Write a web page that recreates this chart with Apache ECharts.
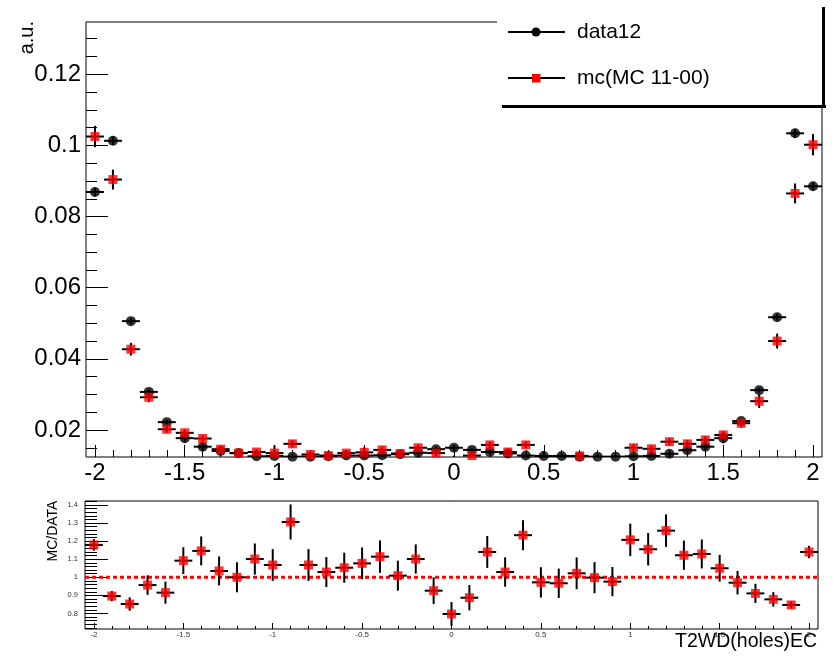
<!DOCTYPE html>
<html>
<head>
<meta charset="utf-8">
<script src="https://cdn.jsdelivr.net/npm/echarts@6/dist/echarts.min.js"></script>
<style>
  html, body { margin: 0; padding: 0; background: #fff; }
  #chart { width: 834px; height: 656px; }
</style>
</head>
<body>
<div id="chart"></div>
<script>
// Bin centres of T2WD(holes)EC, bin width 0.1
const binCenters = [-2.0, -1.9, -1.8, -1.7, -1.6, -1.5, -1.4, -1.3, -1.2, -1.1, -1.0,
  -0.9, -0.8, -0.7, -0.6, -0.5, -0.4, -0.3, -0.2, -0.1, 0.0, 0.1, 0.2, 0.3, 0.4, 0.5,
  0.6, 0.7, 0.8, 0.9, 1.0, 1.1, 1.2, 1.3, 1.4, 1.5, 1.6, 1.7, 1.8, 1.9, 2.0];
const binHalfWidth = 0.05;

// data12 (normalised)
const data12 = [0.0869, 0.1013, 0.0506, 0.0307, 0.0222, 0.0177, 0.0153, 0.0141, 0.0135, 0.0126, 0.0127,
  0.0125, 0.0125, 0.0126, 0.0128, 0.0128, 0.0129, 0.0132, 0.0136, 0.0146, 0.0150, 0.0144, 0.0138, 0.0134, 0.0128, 0.0127,
  0.0127, 0.0125, 0.0125, 0.0125, 0.0126, 0.0127, 0.0133, 0.0143, 0.0153, 0.0177, 0.0225, 0.0312, 0.0517, 0.1034, 0.0885];
const data12Err = [0.0012, 0.0012, 0.0009, 0.0007, 0.0006, 0.0012, 0.0010, 0.0006, 0.0005, 0.0005, 0.0005,
  0.0006, 0.0005, 0.0005, 0.0005, 0.0006, 0.0005, 0.0005, 0.0006, 0.0006, 0.0007, 0.0006, 0.0006, 0.0005, 0.0005, 0.0014,
  0.0005, 0.0005, 0.0005, 0.0005, 0.0005, 0.0005, 0.0005, 0.0008, 0.0009, 0.0014, 0.0006, 0.0007, 0.0009, 0.0012, 0.0012];

// mc(MC 11-00) (normalised)
const mc = [0.1025, 0.0904, 0.0427, 0.0292, 0.0202, 0.0192, 0.0176, 0.0146, 0.0135, 0.0138, 0.0135,
  0.0161, 0.0131, 0.0128, 0.0135, 0.0137, 0.0144, 0.0134, 0.0150, 0.0135, 0.0120, 0.0128, 0.0158, 0.0138, 0.0158, 0.0123,
  0.0123, 0.0127, 0.0123, 0.0122, 0.0150, 0.0147, 0.0167, 0.0161, 0.0172, 0.0186, 0.0219, 0.0281, 0.0450, 0.0865, 0.1002];
const mcErr = [0.0030, 0.0028, 0.0018, 0.0014, 0.0010, 0.0009, 0.0009, 0.0008, 0.0008, 0.0008, 0.0022,
  0.0010, 0.0008, 0.0008, 0.0008, 0.0014, 0.0009, 0.0008, 0.0009, 0.0008, 0.0008, 0.0008, 0.0009, 0.0008, 0.0009, 0.0008,
  0.0008, 0.0008, 0.0008, 0.0008, 0.0009, 0.0009, 0.0010, 0.0010, 0.0010, 0.0011, 0.0012, 0.0019, 0.0021, 0.0028, 0.0030];

// MC/DATA ratio
const ratio = [1.179, 0.896, 0.852, 0.957, 0.915, 1.092, 1.146, 1.035, 1.000, 1.101, 1.068,
  1.306, 1.068, 1.029, 1.053, 1.077, 1.114, 1.009, 1.101, 0.926, 0.797, 0.887, 1.140, 1.029, 1.233, 0.972,
  0.967, 1.022, 0.998, 0.976, 1.207, 1.155, 1.258, 1.122, 1.129, 1.050, 0.970, 0.911, 0.878, 0.847, 1.140];
const ratioErr = [0.032, 0.028, 0.037, 0.054, 0.061, 0.074, 0.080, 0.080, 0.083, 0.086, 0.088,
  0.097, 0.088, 0.083, 0.083, 0.088, 0.090, 0.083, 0.081, 0.074, 0.066, 0.070, 0.088, 0.081, 0.083, 0.084,
  0.081, 0.088, 0.086, 0.081, 0.090, 0.090, 0.090, 0.081, 0.080, 0.074, 0.065, 0.053, 0.040, 0.020, 0.034];

// Axis ticks
const xMajorTicks = [-2, -1.5, -1, -0.5, 0, 0.5, 1, 1.5, 2];
const xMinorTicks = [-1.9, -1.8, -1.7, -1.6, -1.4, -1.3, -1.2, -1.1, -0.9, -0.8, -0.7, -0.6, -0.4, -0.3, -0.2, -0.1,
  0.1, 0.2, 0.3, 0.4, 0.6, 0.7, 0.8, 0.9, 1.1, 1.2, 1.3, 1.4, 1.6, 1.7, 1.8, 1.9];
const yMajorTicks = [0.02, 0.04, 0.06, 0.08, 0.1, 0.12];
const yMinorTicks = [0.015, 0.025, 0.03, 0.035, 0.045, 0.05, 0.055, 0.065, 0.07, 0.075, 0.085, 0.09, 0.095,
  0.105, 0.11, 0.115, 0.125, 0.13];
const rMajorTicks = [0.8, 0.9, 1.0, 1.1, 1.2, 1.3, 1.4];
const rMinorTicks = [0.72, 0.74, 0.76, 0.78, 0.82, 0.84, 0.86, 0.88, 0.92, 0.94, 0.96, 0.98, 1.02, 1.04, 1.06, 1.08,
  1.12, 1.14, 1.16, 1.18, 1.22, 1.24, 1.26, 1.28, 1.32, 1.34, 1.36, 1.38, 1.42];

const FONT = "'Liberation Sans', Arial, Helvetica, sans-serif";
const X_RANGE = [-2.05, 2.05];
const Y_RANGE = [0.0124, 0.1347];
const R_RANGE = [0.714, 1.422];

const fmt = v => String(+(+v).toFixed(3));

function zip(xs, ys, es) {
  return xs.map((x, i) => es ? [x, ys[i], es[i]] : [x, ys[i]]);
}

// Error bars: horizontal bin width, vertical uncertainty
function errorBars(params, api) {
  const x = api.value(0), y = api.value(1), e = api.value(2);
  const l = api.coord([x - binHalfWidth, y]);
  const r = api.coord([x + binHalfWidth, y]);
  const t = api.coord([x, y + e]);
  const b = api.coord([x, y - e]);
  const st = { stroke: '#000', lineWidth: 2 };
  return {
    type: 'group',
    children: [
      { type: 'line', shape: { x1: l[0], y1: l[1], x2: r[0], y2: r[1] }, style: st },
      { type: 'line', shape: { x1: t[0], y1: t[1], x2: b[0], y2: b[1] }, style: st }
    ]
  };
}

function xAxisPair(grid, range, labelSize, labelMargin, majorLen, minorLen) {
  return [
    {
      type: 'value', gridIndex: grid, min: range[0], max: range[1], position: 'bottom',
      axisLine: { show: false, onZero: false }, splitLine: { show: false },
      axisTick: { show: true, inside: true, length: majorLen, customValues: xMajorTicks,
                  lineStyle: { color: '#000', width: 1 } },
      axisLabel: { show: true, customValues: xMajorTicks, formatter: fmt, margin: labelMargin,
                   fontSize: labelSize, fontFamily: FONT, color: grid === 0 ? '#000' : '#333' }
    },
    {
      type: 'value', gridIndex: grid, min: range[0], max: range[1], position: 'bottom',
      axisLine: { show: false, onZero: false }, splitLine: { show: false }, axisLabel: { show: false },
      axisTick: { show: true, inside: true, length: minorLen, customValues: xMinorTicks,
                  lineStyle: { color: '#000', width: 1 } }
    }
  ];
}

function yAxisPair(grid, range, majors, minors, labelSize, labelMargin, majorLen, minorLen, color) {
  return [
    {
      type: 'value', gridIndex: grid, min: range[0], max: range[1], position: 'left',
      axisLine: { show: false, onZero: false }, splitLine: { show: false },
      axisTick: { show: true, inside: true, length: majorLen, customValues: majors,
                  lineStyle: { color: '#000', width: 1 } },
      axisLabel: { show: true, customValues: majors, formatter: fmt, margin: labelMargin,
                   fontSize: labelSize, fontFamily: FONT, color: color }
    },
    {
      type: 'value', gridIndex: grid, min: range[0], max: range[1], position: 'left',
      axisLine: { show: false, onZero: false }, splitLine: { show: false }, axisLabel: { show: false },
      axisTick: { show: true, inside: true, length: minorLen, customValues: minors,
                  lineStyle: { color: '#000', width: 1 } }
    }
  ];
}

const chart = echarts.init(document.getElementById('chart'), null, { renderer: 'canvas' });

chart.setOption({
  animation: false,
  backgroundColor: '#fff',
  grid: [
    { left: 86, top: 22, width: 736, height: 435, show: true, borderColor: '#000', borderWidth: 1, backgroundColor: 'transparent' },
    { left: 85, top: 501, width: 733, height: 128, show: true, borderColor: '#000', borderWidth: 1, backgroundColor: 'transparent' }
  ],
  xAxis: [
    ...xAxisPair(0, X_RANGE, 24, 4, 12, 7),
    ...xAxisPair(1, X_RANGE, 8, 2, 6, 3)
  ],
  yAxis: [
    ...yAxisPair(0, Y_RANGE, yMajorTicks, yMinorTicks, 24, 5, 22, 11, '#000'),
    ...yAxisPair(1, R_RANGE, rMajorTicks, rMinorTicks, 7.5, 7, 23, 12, '#333')
  ],
  series: [
    // upper panel: data12
    { type: 'custom', xAxisIndex: 0, yAxisIndex: 0, clip: true, z: 2,
      data: zip(binCenters, data12, data12Err), renderItem: errorBars, encode: { x: 0, y: 1 } },
    { type: 'scatter', xAxisIndex: 0, yAxisIndex: 0, clip: true, z: 3,
      symbol: 'circle', symbolSize: 10, itemStyle: { color: '#000' },
      data: zip(binCenters, data12) },
    // upper panel: mc
    { type: 'custom', xAxisIndex: 0, yAxisIndex: 0, clip: true, z: 4,
      data: zip(binCenters, mc, mcErr), renderItem: errorBars, encode: { x: 0, y: 1 } },
    { type: 'scatter', xAxisIndex: 0, yAxisIndex: 0, clip: true, z: 5,
      symbol: 'rect', symbolSize: 9, itemStyle: { color: '#ff0000' },
      data: zip(binCenters, mc) },
    // lower panel: reference line at 1
    { type: 'line', xAxisIndex: 2, yAxisIndex: 2, z: 2, symbol: 'none',
      lineStyle: { color: '#ff0000', width: 3, type: [4, 3] },
      data: [[X_RANGE[0], 1], [X_RANGE[1], 1]] },
    // lower panel: ratio
    { type: 'custom', xAxisIndex: 2, yAxisIndex: 2, clip: true, z: 3,
      data: zip(binCenters, ratio, ratioErr), renderItem: errorBars, encode: { x: 0, y: 1 } },
    { type: 'scatter', xAxisIndex: 2, yAxisIndex: 2, clip: true, z: 4,
      symbol: 'rect', symbolSize: 9, itemStyle: { color: '#ff0000' },
      data: zip(binCenters, ratio) }
  ],
  graphic: [
    // legend box
    { type: 'rect', z: 100, shape: { x: 497, y: 0, width: 325, height: 105 }, style: { fill: '#fff' } },
    { type: 'rect', z: 101, shape: { x: 502, y: 105, width: 324, height: 3 }, style: { fill: '#000' } },
    { type: 'rect', z: 101, shape: { x: 822, y: 7, width: 3, height: 101 }, style: { fill: '#000' } },
    { type: 'line', z: 101, shape: { x1: 508, y1: 32, x2: 565, y2: 32 }, style: { stroke: '#000', lineWidth: 2 } },
    { type: 'circle', z: 102, shape: { cx: 536, cy: 32, r: 4.5 }, style: { fill: '#000' } },
    { type: 'text', z: 102, x: 577, y: 32,
      style: { text: 'data12', fontSize: 21, fontFamily: FONT, fill: '#000', verticalAlign: 'middle', align: 'left' } },
    { type: 'line', z: 101, shape: { x1: 508, y1: 78, x2: 565, y2: 78 }, style: { stroke: '#000', lineWidth: 2 } },
    { type: 'rect', z: 102, shape: { x: 532, y: 74, width: 8.5, height: 8.5 }, style: { fill: '#ff0000' } },
    { type: 'text', z: 102, x: 577, y: 78,
      style: { text: 'mc(MC 11-00)', fontSize: 21, fontFamily: FONT, fill: '#000', verticalAlign: 'middle', align: 'left' } },
    // axis titles
    { type: 'text', z: 102, x: 27, y: 21, rotation: Math.PI / 2,
      style: { text: 'a.u.', fontSize: 20, fontFamily: FONT, fill: '#000', align: 'right', verticalAlign: 'middle' } },
    { type: 'text', z: 102, x: 53, y: 531, rotation: Math.PI / 2,
      style: { text: 'MC/DATA', fontSize: 14, fontFamily: FONT, fill: '#000', align: 'center', verticalAlign: 'middle' } },
    { type: 'text', z: 102, x: 817, y: 642,
      style: { text: 'T2WD(holes)EC', fontSize: 19.5, fontFamily: FONT, fill: '#000', align: 'right', verticalAlign: 'middle' } }
  ]
});
</script>
</body>
</html>
